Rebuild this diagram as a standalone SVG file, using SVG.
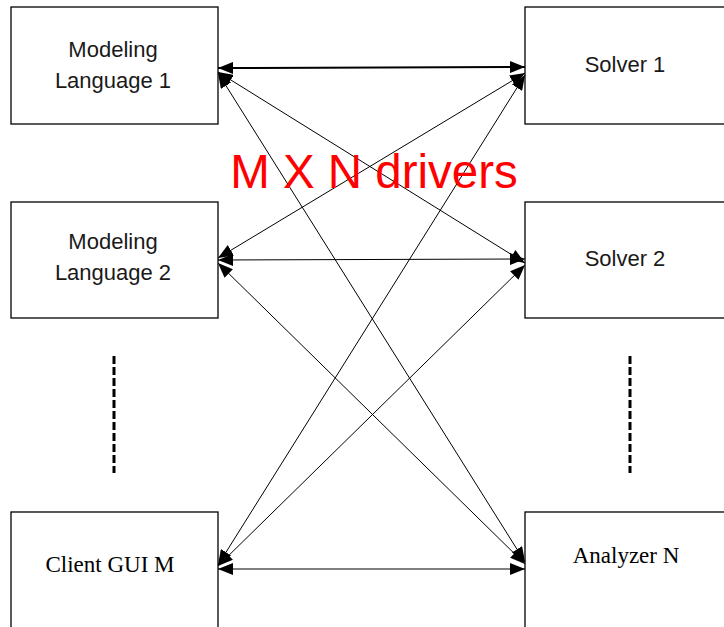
<svg xmlns="http://www.w3.org/2000/svg" width="724" height="627" viewBox="0 0 724 627">
  <defs>
    <marker id="ah" viewBox="0 0 15 12" refX="15" refY="6" markerWidth="15" markerHeight="12" markerUnits="userSpaceOnUse" orient="auto-start-reverse">
      <path d="M0,0 L15,6 L0,12 Z" fill="#000"/>
    </marker>
  </defs>
  <style>
    .box { fill: #fff; stroke: #000; stroke-width: 1.3; }
    .sans { font-family: "Liberation Sans", Arial, sans-serif; font-size: 22px; fill: #1a1a1a; text-anchor: middle; }
    .serif { font-family: "Liberation Serif", "Times New Roman", serif; font-size: 23px; fill: #000; text-anchor: middle; }
    .conn { stroke: #000; stroke-width: 1; fill: none; marker-start: url(#ah); marker-end: url(#ah); }
    .dots { stroke: #000; stroke-width: 3; stroke-dasharray: 8 3; fill: none; }
  </style>
  <rect width="724" height="627" fill="#fff"/>

  <g id="ml1">
    <rect class="box" x="11" y="7" width="207" height="117"/>
    <text class="sans" x="113" y="57">Modeling</text>
    <text class="sans" x="113" y="88">Language 1</text>
  </g>
  <g id="ml2">
    <rect class="box" x="11" y="202" width="207" height="116"/>
    <text class="sans" x="113" y="249">Modeling</text>
    <text class="sans" x="113" y="280">Language 2</text>
  </g>
  <g id="gui">
    <rect class="box" x="11" y="512" width="207" height="125"/>
    <text class="serif" x="110" y="572">Client GUI M</text>
  </g>
  <g id="solver1">
    <rect class="box" x="525" y="7" width="210" height="117"/>
    <text class="sans" x="625" y="72">Solver 1</text>
  </g>
  <g id="solver2">
    <rect class="box" x="525" y="202" width="210" height="116"/>
    <text class="sans" x="625" y="266">Solver 2</text>
  </g>
  <g id="analyzer">
    <rect class="box" x="525" y="512" width="210" height="125"/>
    <text class="serif" x="626" y="563">Analyzer N</text>
  </g>

  <g id="ellipsis">
    <line class="dots" x1="114" y1="356" x2="114" y2="473"/>
    <line class="dots" x1="630" y1="356" x2="630" y2="473"/>
  </g>

  <g id="connectors">
    <line class="conn" x1="218" y1="68" x2="525" y2="67" style="stroke-width:2"/>
    <line class="conn" x1="218" y1="72" x2="525" y2="263"/>
    <line class="conn" x1="218" y1="73" x2="525" y2="562"/>
    <line class="conn" x1="218" y1="258" x2="525" y2="73"/>
    <line class="conn" x1="218" y1="260" x2="525" y2="259"/>
    <line class="conn" x1="218" y1="263" x2="525" y2="564"/>
    <line class="conn" x1="218" y1="565" x2="525" y2="75"/>
    <line class="conn" x1="218" y1="566" x2="525" y2="265"/>
    <line class="conn" x1="218" y1="569" x2="525" y2="569"/>
  </g>

  <text x="374" y="188" font-family="Liberation Sans, Arial, sans-serif" font-size="47.5" fill="#ff0000" text-anchor="middle">M X N drivers</text>
</svg>
